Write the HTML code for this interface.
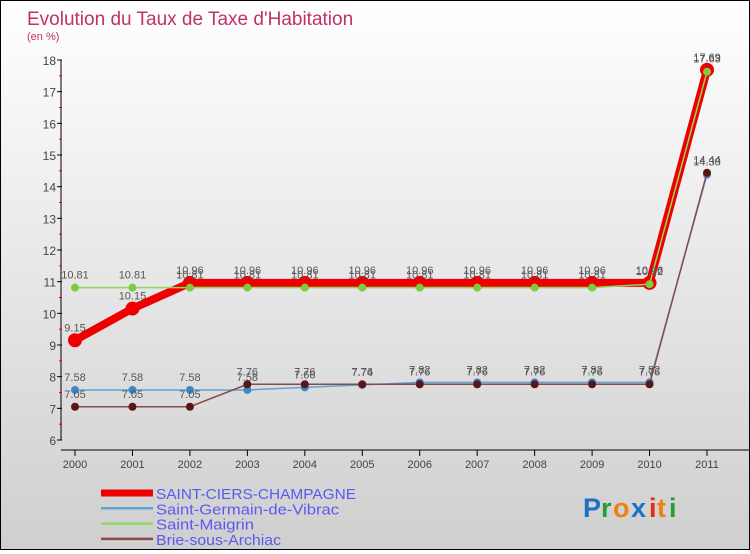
<!DOCTYPE html>
<html><head><meta charset="utf-8"><style>
body{margin:0;width:750px;height:550px;overflow:hidden}
#wrap{position:relative;width:748px;height:548px;border:1px solid #000;background:linear-gradient(#fff,#cfcfcf)}
.t{font-family:"Liberation Sans",sans-serif}
</style></head><body>
<div id="wrap">
<svg id="svg" width="748" height="548" xmlns="http://www.w3.org/2000/svg">
<text x="26" y="24" font-size="19" fill="#c0306a" class="t">Evolution du Taux de Taxe d'Habitation</text>
<text x="26" y="39" font-size="11" fill="#c0306a" class="t">(en %)</text>
<g id="axes"></g><g id="series"></g><g id="legend"></g>
<g font-family="Liberation Sans,sans-serif" font-size="27" font-weight="bold">
<text x="582" y="516" fill="#1a72c8">P</text><text x="600" y="516" fill="#2a9a3a">r</text><text x="612" y="516" fill="#f08010">o</text><text x="630" y="516" fill="#1a72c8">x</text><text x="648" y="516" fill="#e03010">i</text><text x="656" y="516" fill="#f08010">t</text><text x="668" y="516" fill="#2a9a3a">i</text>
</g>
</svg></div>
<script>
const years=[2000,2001,2002,2003,2004,2005,2006,2007,2008,2009,2010,2011];
const yTicks=[6,7,8,9,10,11,12,13,14,15,16,17,18];
const scc=[9.15,10.15,10.96,10.96,10.96,10.96,10.96,10.96,10.96,10.96,10.96,17.69];
const sgv=[7.58,7.58,7.58,7.58,7.66,7.74,7.82,7.82,7.82,7.82,7.82,14.38];
const sm=[10.81,10.81,10.81,10.81,10.81,10.81,10.81,10.81,10.81,10.81,10.92,17.63];
const bsa=[7.05,7.05,7.05,7.76,7.76,7.76,7.76,7.76,7.76,7.76,7.76,14.44];
const names=["SAINT-CIERS-CHAMPAGNE","Saint-Germain-de-Vibrac","Saint-Maigrin","Brie-sous-Archiac"];
const legendWidths=[200,183,98,125];
const NS="http://www.w3.org/2000/svg";
const X=i=>74+i*(632/11), Y=v=>439-(v-6)*(380/12);
function mk(tag,attrs,parent,txt){const e=document.createElementNS(NS,tag);for(const k in attrs)e.setAttribute(k,attrs[k]);if(txt!==undefined)e.textContent=txt;parent.appendChild(e);return e;}
const ax=document.getElementById('axes');
let a=mk('line',{x1:60,y1:Y(18),x2:60,y2:Y(6),stroke:'#000'},ax);

a=mk('line',{x1:60,y1:449,x2:748,y2:449,stroke:'#000'},ax);

yTicks.forEach(v=>{mk('line',{x1:56,y1:Y(v),x2:61,y2:Y(v),stroke:'#000'},ax);
 if(v<18)mk('line',{x1:58,y1:Y(v+0.5),x2:61,y2:Y(v+0.5),stroke:'#e00'},ax);
 const t=mk('text',{x:55,y:Y(v)+5,'font-size':12,fill:'#444','text-anchor':'end',class:'t'},ax,v);
 });
years.forEach((y,i)=>{mk('line',{x1:X(i),y1:449,x2:X(i),y2:455,stroke:'#000'},ax);
 const t=mk('text',{x:X(i),y:467,'font-size':11,fill:'#444','text-anchor':'middle',class:'t'},ax,y);
 });
const se=document.getElementById('series');
const defs=[[scc,'#ee0000',8,7,'#ee0000'],[sgv,'#5fa3d8',1.5,4,'#3a88c8'],[sm,'#8fd860',1.5,4,'#7ccc40'],[bsa,'#8a4a4a',1.5,4,'#5a1518']];
const order=[1,3,0,2];
order.forEach(k=>{const [d,c,w,r,fc]=defs[k];
 const g=mk('g',{},se);
 const p=mk('polyline',{points:d.map((v,i)=>X(i)+','+Y(v)).join(' '),fill:'none',stroke:c,'stroke-width':w},g);
 
 d.forEach((v,i)=>{const ci=mk('circle',{cx:X(i),cy:Y(v),r:r,fill:fc},g);
  
  const t=mk('text',{x:X(i),y:Y(v)-9,'font-size':11,fill:'#555','text-anchor':'middle',class:'t'},g,v.toFixed(2).replace(/0$/,'').replace(/\.$/,''));
  });
});
const lg=document.getElementById('legend');
names.forEach((n,k)=>{const y=492+k*15.3;
 const l=mk('line',{x1:100,y1:y,x2:152,y2:y,stroke:defs[k][1],'stroke-width':k==0?7:2.5},lg);
 
 const t=mk('text',{x:155,y:y+6,'font-size':15,fill:'#5a5af0',class:'t',textLength:legendWidths[k],lengthAdjust:'spacingAndGlyphs'},lg,n);
 });
</script></body></html>
